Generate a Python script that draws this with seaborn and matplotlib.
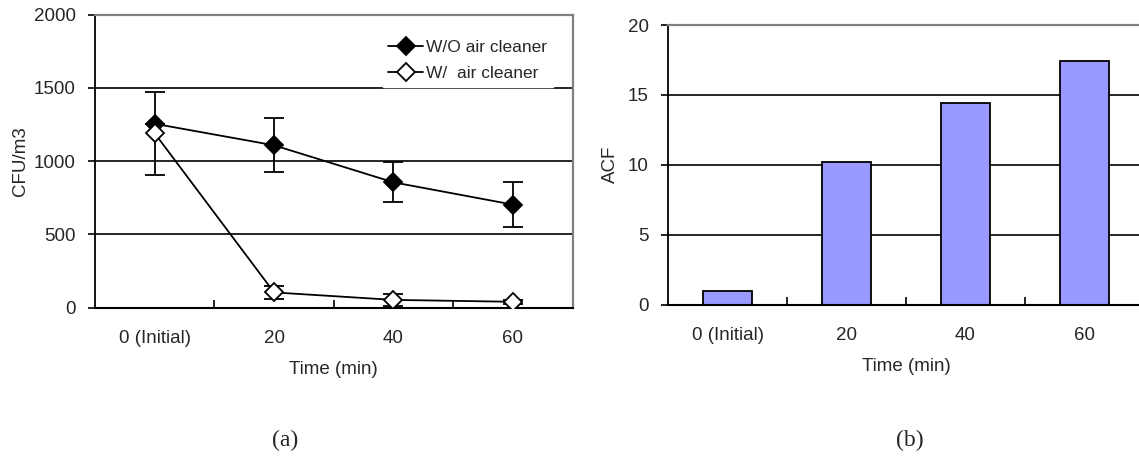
import numpy as np
import pandas as pd
import matplotlib
matplotlib.use("Agg")
import matplotlib.pyplot as plt
import seaborn as sns

# ---------------- data ----------------
categories = ["0 (Initial)", "20", "40", "60"]
wo_cleaner = [1255, 1108, 855, 703]
wo_err = [0, 185, 136, 152]
w_cleaner = [1190, 103, 52, 39]
w_err = [285, 45, 42, 12]
acf = [1.0, 10.2, 14.4, 17.4]
cfu_ticks = [0, 500, 1000, 1500, 2000]
acf_ticks = [0, 5, 10, 15, 20]
series_labels = ["W/O air cleaner", "W/  air cleaner"]

sns.set_theme(style="white")
plt.rcParams["font.family"] = ["Liberation Sans Narrow", "Liberation Sans", "DejaVu Sans"]

W, H = 1139, 462
fig = plt.figure(figsize=(W / 100, H / 100), dpi=100)
fig.patch.set_facecolor("white")

def fx(px):
    return px / W

def fy(py):
    return 1 - py / H

axA = fig.add_axes([fx(95), fy(307.5), fx(572.5 - 95), fy(14.7) - fy(307.5)])
axB = fig.add_axes([fx(668), fy(304.5), fx(1144 - 668), fy(25) - fy(304.5)])

FS = 13.5
GRID_LW = 1.2

def style_axes(ax, yticks):
    ax.set_facecolor("white")
    ax.set_xlim(-0.5, len(categories) - 0.5)
    ax.set_ylim(yticks[0], yticks[-1])
    ax.set_yticks(yticks)
    ax.set_yticklabels([str(t) for t in yticks], fontsize=FS)
    ax.set_xticks(range(len(categories)))
    ax.set_xticklabels(categories, fontsize=FS)
    ax.set_xticks(np.arange(0.5, len(categories) - 1, 1.0), minor=True)
    ax.tick_params(axis="x", which="major", length=0, pad=16)
    ax.tick_params(axis="x", which="minor", direction="in", length=6,
                   width=1.2, color="black", bottom=True)
    ax.tick_params(axis="y", which="major", direction="out", length=5,
                   width=1.2, color="black", pad=9, left=True)
    for t in yticks[1:-1]:
        ax.axhline(t, color="black", lw=GRID_LW, zorder=0.5)
    ax.spines["left"].set_color("black")
    ax.spines["bottom"].set_color("black")
    ax.spines["left"].set_linewidth(1.3)
    ax.spines["bottom"].set_linewidth(1.5)
    ax.spines["top"].set_color("#808080")
    ax.spines["top"].set_linewidth(1.6)
    ax.spines["right"].set_color("#808080")
    ax.spines["right"].set_linewidth(1.6)
    ax.set_xlabel("Time (min)", fontsize=FS, labelpad=10)

# ---------------- panel (a) ----------------
df = pd.DataFrame({
    "pos": list(range(len(categories))) * 2,
    "value": wo_cleaner + w_cleaner,
    "series": [series_labels[0]] * len(categories) + [series_labels[1]] * len(categories),
})
style_axes(axA, cfu_ticks)
xpos = np.arange(len(categories))
axA.errorbar(xpos, w_cleaner, yerr=w_err, fmt="none", ecolor="black",
             elinewidth=1.3, capsize=7, capthick=1.3, zorder=3)
axA.errorbar(xpos, wo_cleaner, yerr=wo_err, fmt="none", ecolor="black",
             elinewidth=1.3, capsize=7, capthick=1.3, zorder=3)
sns.lineplot(data=df, x="pos", y="value", hue="series", style="series",
             palette=["black", "black"], dashes=False,
             markers={series_labels[0]: "D", series_labels[1]: "D"},
             ax=axA, legend=False, lw=1.3, zorder=4)
seriesA_lines = [l for l in axA.lines if len(l.get_xdata()) == len(categories) and l.get_marker() == "D"]
if len(seriesA_lines) >= 2:
    seriesA_lines[0].set_markerfacecolor("black")
    seriesA_lines[0].set_markeredgecolor("black")
    seriesA_lines[1].set_markerfacecolor("white")
    seriesA_lines[1].set_markeredgecolor("black")
    for l in seriesA_lines:
        l.set_markersize(9)
        l.set_markeredgewidth(1.3)
        l.set_color("black")
    leg = axA.legend(seriesA_lines[:2], series_labels, loc="upper left",
                     bbox_to_anchor=(fx(383 - 95) / fx(572.5 - 95), 1 - (20 / 292.8)),
                     frameon=True, fontsize=12.5, handlelength=2.0, handletextpad=0.2,
                     borderpad=0.3, labelspacing=0.65, borderaxespad=0)
    leg.get_frame().set_facecolor("white")
    leg.get_frame().set_edgecolor("white")
    leg.get_frame().set_alpha(1)
    leg.get_frame().set_boxstyle("square", pad=0)
    leg.set_zorder(5)
axA.set_ylabel("CFU/m3", fontsize=FS, labelpad=3)

# ---------------- panel (b) ----------------
dfb = pd.DataFrame({"time": categories, "ACF": acf})
style_axes(axB, acf_ticks)
sns.barplot(data=dfb, x="time", y="ACF", color="#9999FF", saturation=1,
            width=0.405, edgecolor="black", linewidth=1.3, ax=axB, zorder=2)
axB.set_xlim(-0.5, len(categories) - 0.5)
axB.set_xticks(range(len(categories)))
axB.set_xticklabels(categories, fontsize=FS)
axB.tick_params(axis="x", which="major", length=0, pad=16)
axB.set_xlabel("Time (min)", fontsize=FS, labelpad=10)
axB.set_ylabel("ACF", fontsize=FS, labelpad=6)
axB.spines["right"].set_visible(False)

# ---------------- panel letters ----------------
fig.text(fx(285), fy(440), "(a)", ha="center", va="center", fontsize=17,
         family=["Liberation Serif", "DejaVu Serif"])
fig.text(fx(910), fy(440), "(b)", ha="center", va="center", fontsize=17,
         family=["Liberation Serif", "DejaVu Serif"])

fig.savefig("out.png", dpi=100, facecolor="white")
